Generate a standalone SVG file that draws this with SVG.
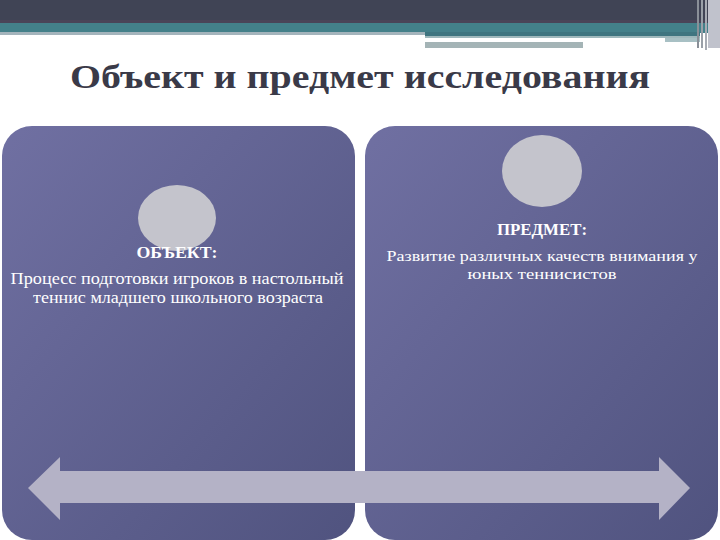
<svg xmlns="http://www.w3.org/2000/svg" width="720" height="540" viewBox="0 0 720 540">
<defs>
<linearGradient id="boxg" x1="0" y1="0" x2="1" y2="1">
<stop offset="0" stop-color="#7070a2"/>
<stop offset="1" stop-color="#50537f"/>
</linearGradient>
<style>
.box{fill:url(#boxg)}
.circ{fill:#c4c4cc}
.head{font-family:"Liberation Serif","Times New Roman",serif;font-weight:bold;font-size:16px;fill:#ffffff;text-anchor:middle}
.body{font-family:"Liberation Serif","Times New Roman",serif;font-size:17px;fill:#ffffff;text-anchor:middle}
.body2{font-family:"Liberation Serif","Times New Roman",serif;font-size:15px;fill:#ffffff;text-anchor:middle}
.title{font-family:"Liberation Serif","Times New Roman",serif;font-weight:bold;font-size:34px;fill:#3a3a48;text-anchor:middle}
</style>
</defs>
<rect width="720" height="540" fill="#ffffff"/>
<!-- header -->
<rect x="0" y="0" width="720" height="21" fill="#404455"/>
<rect x="0" y="20" width="720" height="3" fill="#4a4458"/>
<rect x="0" y="23" width="720" height="10" fill="#44808a"/>
<rect x="0" y="32" width="425" height="3" fill="#a4b4bc"/>
<rect x="425" y="32" width="275" height="4" fill="#3f7580"/>
<rect x="425" y="36" width="275" height="2" fill="#9fb8bc"/>
<rect x="425" y="38" width="240" height="4" fill="#ffffff"/>
<rect x="665" y="38" width="35" height="4" fill="#a8c0c4"/>
<rect x="425" y="42" width="158" height="6" fill="#a4b4b6"/>
<rect x="697" y="0" width="2" height="48" fill="#8a9098"/>
<rect x="701" y="0" width="2" height="48" fill="#9aa0a8"/>
<rect x="705" y="0" width="2" height="50" fill="#a8acb4"/>
<rect x="708" y="0" width="12" height="48" fill="#c0c2cc"/>
<text class="title" x="360" y="88" textLength="580" lengthAdjust="spacingAndGlyphs">Объект и предмет исследования</text>
<g id="node-object">
<rect class="box" x="2" y="126" width="353" height="414" rx="30"/>
<ellipse class="circ" cx="177" cy="218" rx="39" ry="33"/>
<text class="head" x="177" y="258" textLength="81" lengthAdjust="spacingAndGlyphs">ОБЪЕКТ:</text>
<text class="body" x="177" y="284" textLength="333" lengthAdjust="spacingAndGlyphs">Процесс подготовки игроков в настольный</text>
<text class="body" x="178" y="303" textLength="290" lengthAdjust="spacingAndGlyphs">теннис младшего школьного возраста</text>
</g>
<g id="node-subject">
<rect class="box" x="365" y="126" width="353" height="414" rx="30"/>
<ellipse class="circ" cx="542" cy="171" rx="40" ry="36"/>
<text class="head" x="542" y="235" textLength="90" lengthAdjust="spacingAndGlyphs">ПРЕДМЕТ:</text>
<text class="body2" x="542" y="261" textLength="311" lengthAdjust="spacingAndGlyphs">Развитие различных качеств внимания у</text>
<text class="body2" x="542" y="279" textLength="149" lengthAdjust="spacingAndGlyphs">юных теннисистов</text>
</g>
<g id="connectors">
<polygon points="28,488 60,457 60,471 659,471 659,457 690,488 659,520 659,503 60,503 60,520" fill="#b4b2c6"/>
</g>
</svg>
